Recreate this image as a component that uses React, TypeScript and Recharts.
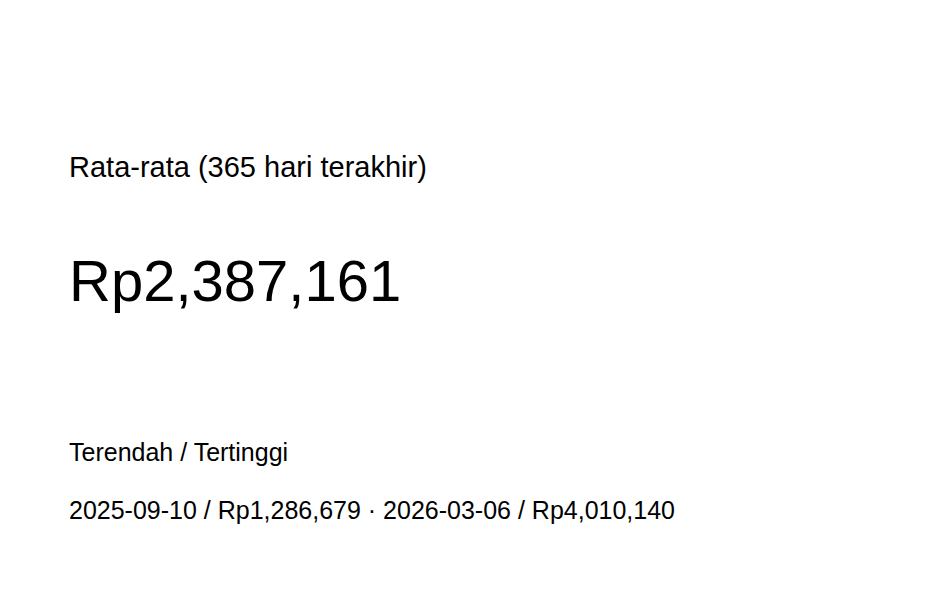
import React from "react";
import { Surface, Text } from "recharts";

// KPI card: average price over the last 365 days, plus low / high
const TITLE = "Rata-rata (365 hari terakhir)";
const AVERAGE_VALUE = 2387161;
const RANGE_LABEL = "Terendah / Tertinggi";
const LOW_DATE = "2025-09-10";
const LOW_VALUE = 1286679;
const HIGH_DATE = "2026-03-06";
const HIGH_VALUE = 4010140;

const WIDTH = 942;
const HEIGHT = 601;
const FONT = '"Liberation Sans", Arial, sans-serif';
const INK = "#000000";

function rupiah(v: number) {
  return `Rp${v.toLocaleString("en-US")}`;
}

export default function App() {
  const rangeText = `${LOW_DATE} / ${rupiah(LOW_VALUE)} · ${HIGH_DATE} / ${rupiah(HIGH_VALUE)}`;

  return (
    <div style={{ position: "absolute", left: 0, top: 0, width: WIDTH, height: HEIGHT, background: "#ffffff" }}>
      <Surface width={WIDTH} height={HEIGHT}>
        <Text x={69} y={177} fontSize={29} fontFamily={FONT} fill={INK}>
          {TITLE}
        </Text>
        <Text x={69} y={301} fontSize={58} fontFamily={FONT} fill={INK}>
          {rupiah(AVERAGE_VALUE)}
        </Text>
        <Text x={69} y={461} fontSize={25} fontFamily={FONT} fill={INK}>
          {RANGE_LABEL}
        </Text>
        <Text x={69} y={519} fontSize={25} fontFamily={FONT} fill={INK}>
          {rangeText}
        </Text>
      </Surface>
    </div>
  );
}
